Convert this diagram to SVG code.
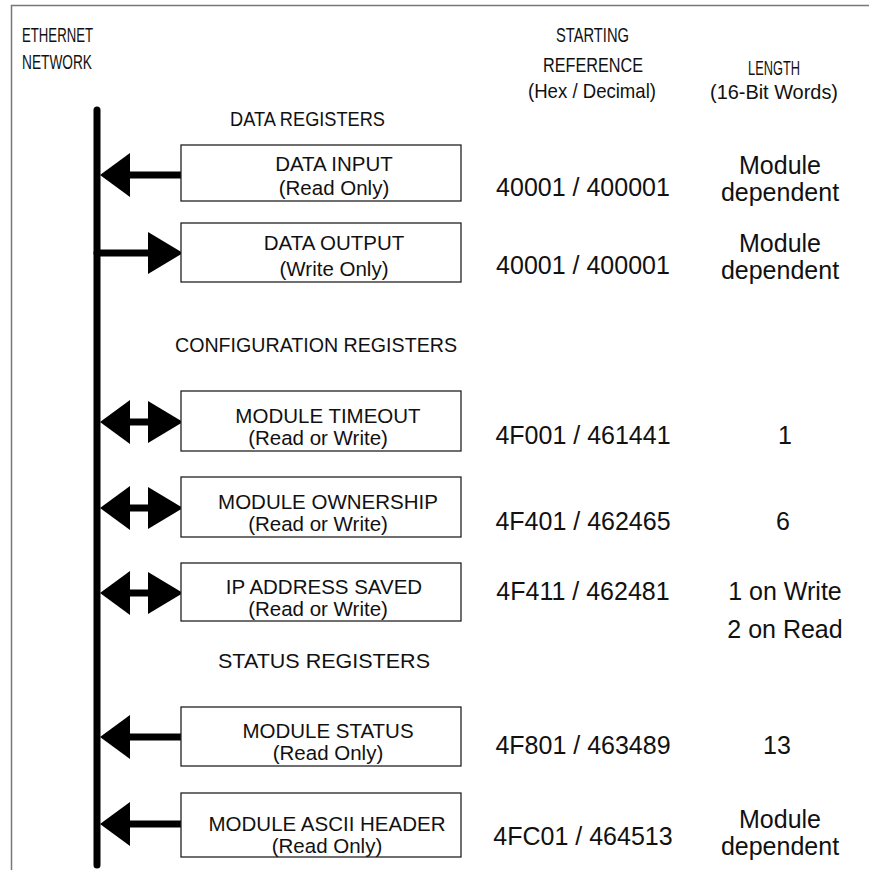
<svg xmlns="http://www.w3.org/2000/svg" width="869" height="870" viewBox="0 0 869 870">
<style>
.hdr{font-family:"Liberation Sans",Arial,sans-serif;font-size:21px;fill:#111}
.box{fill:#fff;stroke:#222;stroke-width:1.3}
.bt{font-family:"Liberation Sans",Arial,sans-serif;font-size:20.5px;fill:#111;text-anchor:middle}
.num{font-family:"Liberation Sans",Arial,sans-serif;font-size:25px;fill:#111;text-anchor:middle}
.shaft{stroke:#000;stroke-width:7;stroke-linecap:round;fill:none}
.head{fill:#000}
.frame{stroke:#777;stroke-width:1.5;fill:none}
</style>
<defs>
<polygon id="hl" points="0,0 30,-22 30,22"/>
<polygon id="hr" points="0,-21 35,0 0,21"/>
</defs>
<path class="frame" d="M11.5,870 V5.5 H869"/>
<g id="headers">
<text class="hdr" x="22" y="42" textLength="71" lengthAdjust="spacingAndGlyphs">ETHERNET</text>
<text class="hdr" x="22" y="69" textLength="70" lengthAdjust="spacingAndGlyphs">NETWORK</text>
<text class="hdr" x="556" y="42" textLength="73" lengthAdjust="spacingAndGlyphs">STARTING</text>
<text class="hdr" x="543" y="72" textLength="100" lengthAdjust="spacingAndGlyphs">REFERENCE</text>
<text class="hdr" x="528" y="98" textLength="128" lengthAdjust="spacingAndGlyphs">(Hex / Decimal)</text>
<text class="hdr" x="748" y="75" textLength="52" lengthAdjust="spacingAndGlyphs">LENGTH</text>
<text class="hdr" x="710" y="99" textLength="128" lengthAdjust="spacingAndGlyphs">(16-Bit Words)</text>
<text class="hdr" x="230" y="126" textLength="155" lengthAdjust="spacingAndGlyphs">DATA REGISTERS</text>
<text class="hdr" x="175" y="352" textLength="282" lengthAdjust="spacingAndGlyphs">CONFIGURATION REGISTERS</text>
<text class="hdr" x="218" y="668" textLength="212" lengthAdjust="spacingAndGlyphs">STATUS REGISTERS</text>
</g>
<g id="connectors">
<line class="shaft" x1="97" y1="110" x2="97" y2="865"/>
<line class="shaft" x1="125" y1="175" x2="183" y2="175"/>
<use href="#hl" class="head" x="100" y="175"/>
<line class="shaft" x1="97" y1="253" x2="150" y2="253"/>
<use href="#hr" class="head" x="148" y="253"/>
<line class="shaft" x1="125" y1="422" x2="150" y2="422"/>
<use href="#hl" class="head" x="100" y="422"/>
<use href="#hr" class="head" x="148" y="422"/>
<line class="shaft" x1="125" y1="508" x2="150" y2="508"/>
<use href="#hl" class="head" x="100" y="508"/>
<use href="#hr" class="head" x="148" y="508"/>
<line class="shaft" x1="125" y1="593" x2="150" y2="593"/>
<use href="#hl" class="head" x="100" y="593"/>
<use href="#hr" class="head" x="148" y="593"/>
<line class="shaft" x1="125" y1="737" x2="183" y2="737"/>
<use href="#hl" class="head" x="100" y="737"/>
<line class="shaft" x1="125" y1="824" x2="183" y2="824"/>
<use href="#hl" class="head" x="100" y="824"/>
</g>
<g id="data-input">
<rect class="box" x="181" y="145" width="280" height="56"/>
<text class="bt" x="334" y="171">DATA INPUT</text>
<text class="bt" x="334" y="195">(Read Only)</text>
<text class="num" x="583" y="196">40001 / 400001</text>
<text class="num" x="780" y="174">Module</text>
<text class="num" x="780" y="201">dependent</text>
</g>
<g id="data-output">
<rect class="box" x="181" y="223" width="280" height="59"/>
<text class="bt" x="334" y="250">DATA OUTPUT</text>
<text class="bt" x="334" y="276">(Write Only)</text>
<text class="num" x="583" y="274">40001 / 400001</text>
<text class="num" x="780" y="252">Module</text>
<text class="num" x="780" y="279">dependent</text>
</g>
<g id="module-timeout">
<rect class="box" x="181" y="391" width="280" height="60"/>
<text class="bt" x="328" y="423">MODULE TIMEOUT</text>
<text class="bt" x="318" y="445">(Read or Write)</text>
<text class="num" x="583" y="444">4F001 / 461441</text>
<text class="num" x="785" y="444">1</text>
</g>
<g id="module-ownership">
<rect class="box" x="181" y="477" width="280" height="60"/>
<text class="bt" x="328" y="509">MODULE OWNERSHIP</text>
<text class="bt" x="318" y="531">(Read or Write)</text>
<text class="num" x="583" y="530">4F401 / 462465</text>
<text class="num" x="783" y="530">6</text>
</g>
<g id="ip-address-saved">
<rect class="box" x="181" y="563" width="280" height="58"/>
<text class="bt" x="324" y="594">IP ADDRESS SAVED</text>
<text class="bt" x="318" y="616">(Read or Write)</text>
<text class="num" x="583" y="600">4F411 / 462481</text>
<text class="num" x="785" y="600">1 on Write</text>
<text class="num" x="785" y="638">2 on Read</text>
</g>
<g id="module-status">
<rect class="box" x="181" y="707" width="280" height="59"/>
<text class="bt" x="328" y="738">MODULE STATUS</text>
<text class="bt" x="328" y="760">(Read Only)</text>
<text class="num" x="583" y="754">4F801 / 463489</text>
<text class="num" x="777" y="754">13</text>
</g>
<g id="module-ascii-header">
<rect class="box" x="181" y="793" width="280" height="64"/>
<text class="bt" x="327" y="831">MODULE ASCII HEADER</text>
<text class="bt" x="327" y="853">(Read Only)</text>
<text class="num" x="583" y="845">4FC01 / 464513</text>
<text class="num" x="780" y="828">Module</text>
<text class="num" x="780" y="855">dependent</text>
</g>
</svg>
